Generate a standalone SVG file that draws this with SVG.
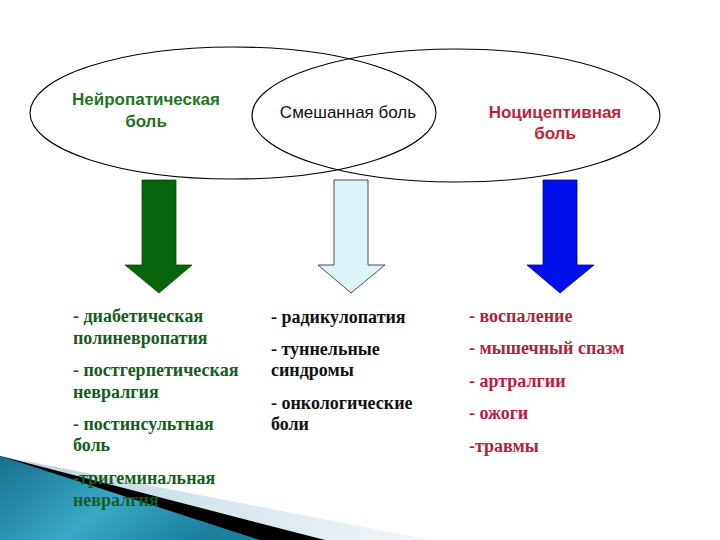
<svg xmlns="http://www.w3.org/2000/svg" width="720" height="540" viewBox="0 0 720 540">
<style>
.ell{fill:none;stroke:#000;stroke-width:1.1}
.ttl{font-family:"Liberation Sans",Arial,sans-serif;font-size:17px;text-anchor:middle}
.b{font-weight:bold}
.lst{font-family:"Liberation Serif","Times New Roman",serif;font-size:18px;font-weight:bold}
.g{fill:#155d1d}
.k{fill:#111}
.r{fill:#b3213a}
.arr{stroke-width:0.8;stroke-linejoin:miter}
</style>
<defs>
<linearGradient id="teal" x1="0" y1="0" x2="1" y2="0.4">
<stop offset="0" stop-color="#176f8e"/>
<stop offset="0.55" stop-color="#3aa8c8"/>
<stop offset="1" stop-color="#1b7f9e"/>
</linearGradient>
<linearGradient id="pale" x1="0" y1="0" x2="1" y2="0">
<stop offset="0" stop-color="#b9d4e0"/>
<stop offset="1" stop-color="#f2f7fa"/>
</linearGradient>
</defs>
<rect width="720" height="540" fill="#fff"/>

<g id="decoration">
<polygon fill="url(#pale)" points="0,456 430,540 0,540"/>
<polygon fill="#000" points="0,456 325,540 0,540"/>
<polygon fill="url(#teal)" points="0,456 260,540 0,540"/>
</g>

<g id="neuropathic">
<ellipse class="ell" cx="233" cy="113" rx="203" ry="66"/>
<text class="ttl b" fill="#1f751f" x="146" y="105">Нейропатическая</text>
<text class="ttl b" fill="#1f751f" x="146" y="127">боль</text>
</g>
<g id="nociceptive">
<ellipse class="ell" cx="456" cy="115.5" rx="204" ry="66.5"/>
<text class="ttl b" fill="#bb2538" x="555" y="118">Ноцицептивная</text>
<text class="ttl b" fill="#bb2538" x="555" y="139">боль</text>
</g>
<g id="mixed">
<text class="ttl" fill="#111" x="348" y="118">Смешанная боль</text>
</g>

<g id="connectors">
<polygon class="arr" fill="#06650a" stroke="#0a4a0a" points="142,180 176,180 176,265 192,265 159,293 125,265 142,265"/>
<polygon class="arr" fill="#dcf4f7" stroke="#222" points="334,180 368,180 368,265 385,265 351,293 318,265 334,265"/>
<polygon class="arr" fill="#0010ea" stroke="#00008a" points="543,180 577,180 577,265 594,265 560,293 527,265 543,265"/>
</g>

<g id="list-neuropathic">
<text class="lst g" x="73" y="322">- диабетическая</text>
<text class="lst g" x="73" y="344">полиневропатия</text>
<text class="lst g" x="73" y="376">- постгерпетическая</text>
<text class="lst g" x="73" y="398">невралгия</text>
<text class="lst g" x="73" y="430">- постинсультная</text>
<text class="lst g" x="73" y="451">боль</text>
<text class="lst g" x="73" y="484">-тригеминальная</text>
<text class="lst g" x="73" y="506">невралгия</text>
</g>
<g id="list-mixed">
<text class="lst k" x="271" y="323">- радикулопатия</text>
<text class="lst k" x="271" y="355">- туннельные</text>
<text class="lst k" x="271" y="376">синдромы</text>
<text class="lst k" x="271" y="409">- онкологические</text>
<text class="lst k" x="271" y="430">боли</text>
</g>
<g id="list-nociceptive">
<text class="lst r" x="469" y="322">- воспаление</text>
<text class="lst r" x="469" y="354">- мышечный спазм</text>
<text class="lst r" x="469" y="387">- артралгии</text>
<text class="lst r" x="469" y="419">- ожоги</text>
<text class="lst r" x="469" y="452">-травмы</text>
</g>
</svg>
